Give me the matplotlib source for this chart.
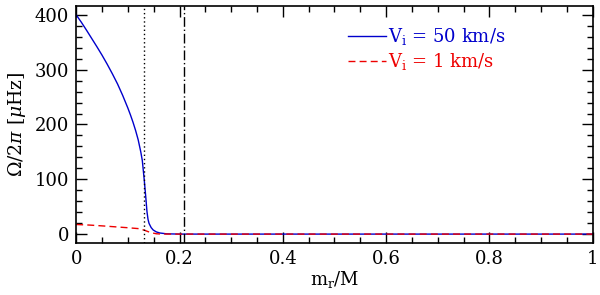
import matplotlib
matplotlib.use("Agg")
import matplotlib.pyplot as plt
from matplotlib.ticker import MultipleLocator, FuncFormatter

plt.rcParams['font.family'] = ['DejaVu Serif']
plt.rcParams['mathtext.fontset'] = 'dejavuserif'

# Data
x_fast = [0.0, 0.01, 0.02, 0.03, 0.04, 0.05, 0.06, 0.07, 0.08, 0.09, 0.10, 0.105, 0.11, 0.115, 0.12,
          0.125, 0.128, 0.1316, 0.135, 0.137, 0.139, 0.141, 0.145, 0.149, 0.155, 0.162, 0.175,
          0.2, 0.4, 0.6, 0.8, 1.0]
y_fast = [400, 386.5, 372, 357, 342, 326.5, 310, 292.5, 274, 253, 230, 217.5, 204, 189, 172,
          150, 134, 100, 64, 41, 27, 19.5, 12, 7.5, 4, 2, 0.5,
          0, 0, 0, 0, 0]
x_slow = [0.0, 0.025, 0.05, 0.075, 0.1, 0.123, 0.132, 0.14, 0.146, 0.155, 0.165, 0.2, 0.4, 0.6, 0.8, 1.0]
y_slow = [17.5, 16.5, 15, 13.3, 11.6, 9.8, 7, 4.2, 2.4, 0.6, 0.1, 0, 0, 0, 0, 0]
x_dotted = 0.1316
x_dashdot = 0.209
labels = [r"V$_\mathrm{i}$ = 50 km/s", r"V$_\mathrm{i}$ = 1 km/s"]

fig = plt.figure(figsize=(6, 2.95), dpi=100)
ax = fig.add_axes([0.127, 0.176, 0.861, 0.804])

ax.plot(x_fast, y_fast, color="#0000cc", lw=1.0, label=labels[0])
ax.plot(x_slow, y_slow, color="#ee0000", lw=1.0, ls=(0, (5, 3)), label=labels[1])
ax.axvline(x_dotted, color="black", lw=1.0, ls=(0, (1, 2)))
ax.axvline(x_dashdot, color="black", lw=1.0, ls=(0, (7, 2, 1, 2)))

ax.set_xlim(0, 1)
ax.set_ylim(-16.4, 416.4)
ax.xaxis.set_major_locator(MultipleLocator(0.2))
ax.xaxis.set_minor_locator(MultipleLocator(0.05))
ax.yaxis.set_major_locator(MultipleLocator(100))
ax.yaxis.set_minor_locator(MultipleLocator(20))
ax.tick_params(which="both", direction="in", top=True, right=True, labelsize=13, width=1.0)
ax.tick_params(which="major", length=8, pad=5)
ax.tick_params(which="minor", length=4)
ax.xaxis.set_major_formatter(FuncFormatter(lambda v, p: "0" if abs(v) < 1e-9 else ("1" if abs(v - 1) < 1e-9 else f"{v:.1f}")))
for s in ax.spines.values():
    s.set_linewidth(1.2)

ax.set_xlabel(r"m$_\mathrm{r}$/M", fontsize=13, labelpad=1)
ax.set_ylabel(r"$\Omega$/2$\pi$ [$\mu$Hz]", fontsize=13.5, labelpad=5)

leg = ax.legend(loc="upper left", bbox_to_anchor=(0.513, 0.945), frameon=False, fontsize=13,
                handlelength=2.1, handletextpad=0.1, labelspacing=0.22, borderaxespad=0)
for t, c in zip(leg.get_texts(), ["#0000cc", "#ee0000"]):
    t.set_color(c)

fig.savefig("out.png", dpi=100)
